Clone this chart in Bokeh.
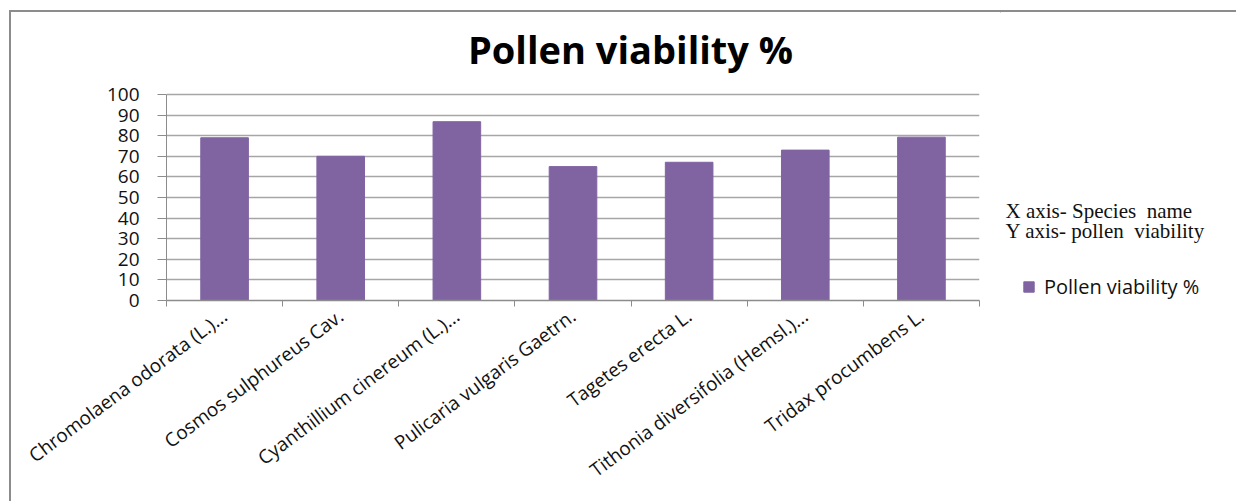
from bokeh.plotting import figure
from bokeh.layouts import row
from bokeh.models import (ColumnDataSource, FixedTicker, Legend, LegendItem,
                          Range1d, Label)
from bokeh.embed import file_html
from bokeh.resources import INLINE

# ---- data ----
species = [
    "Chromolaena odorata (L.)...",
    "Cosmos sulphureus Cav.",
    "Cyanthillium cinereum (L.)...",
    "Pulicaria vulgaris Gaetrn.",
    "Tagetes erecta L.",
    "Tithonia diversifolia (Hemsl.)...",
    "Tridax procumbens L.",
]
viability = [79.0, 70.0, 86.8, 65.0, 67.1, 73.0, 79.3]
y_ticks = [0, 10, 20, 30, 40, 50, 60, 70, 80, 90, 100]
title_text = "Pollen viability %"
series_name = "Pollen viability %"
note_lines = ["X axis- Species  name", "Y axis- pollen  viability"]

# ---- layout (page pixels); canvas origin at page (OX, OY) ----
OX, OY = 11, 12
SPLIT, RIGHT_END = 1000, 1236
H = 501 - OY
WA, WB = SPLIT - OX, RIGHT_END - SPLIT
PLOT_L, PLOT_T, PLOT_R, PLOT_B = 166, 94, 979, 300   # plot area in page px
n = len(species)
YMAX = 100
ppu = (PLOT_B - PLOT_T) / YMAX                          # px per y unit
y_top = YMAX + (PLOT_T - OY) / ppu                      # frame reaches top edge

def page_y(py):
    return (PLOT_B - py) / ppu

def page_x(px):
    return (px - PLOT_L) / (PLOT_R - PLOT_L) * n

BAR = "#8064A2"
GRID = "#a6a6a6"
AXIS = "#8c8c8c"
TXT = "#111111"
SANS = "Open Sans"

# ---------------- main chart ----------------
p = figure(width=WA, height=H, output_backend="svg", toolbar_location=None,
           x_range=Range1d(0, n), y_range=Range1d(0, y_top),
           min_border_left=PLOT_L - OX, min_border_right=WA - (PLOT_R - OX),
           min_border_top=0, min_border_bottom=H - (PLOT_B - OY))
p.outline_line_color = None

centers = [i + 0.5 for i in range(n)]
src = ColumnDataSource(dict(x=centers, top=viability))
r = p.vbar(x="x", top="top", width=0.41, bottom=0, source=src,
           fill_color=BAR, line_color=BAR)

p.add_layout(Label(x=page_x(630), y=page_y(48), text=title_text,
                   text_align="center", text_baseline="alphabetic",
                   text_font=SANS, text_font_style="bold",
                   text_font_size="38px", text_color="#000000"))

p.xgrid.grid_line_color = None
p.ygrid.grid_line_color = GRID
p.ygrid.grid_line_width = 1.5
p.yaxis.ticker = FixedTicker(ticks=y_ticks)
p.yaxis.bounds = (0, YMAX)
p.yaxis.axis_line_color = AXIS
p.yaxis.major_tick_line_color = AXIS
p.yaxis.major_tick_out = 9
p.yaxis.major_tick_in = 0
p.yaxis.minor_tick_line_color = None
p.yaxis.major_label_standoff = 18
p.yaxis.major_label_text_font = SANS
p.yaxis.major_label_text_font_size = "19px"
p.yaxis.major_label_text_color = TXT

p.xaxis.ticker = FixedTicker(ticks=centers, minor_ticks=list(range(n + 1)))
p.xaxis.major_label_overrides = {c: s for c, s in zip(centers, species)}
p.xaxis.major_label_orientation = 0.64
p.xaxis.major_label_standoff = 7
p.xaxis.major_label_text_font = SANS
p.xaxis.major_label_text_font_size = "19px"
p.xaxis.major_label_text_color = TXT
p.xaxis.axis_line_color = AXIS
p.xaxis.axis_line_width = 1.5
p.xaxis.major_tick_line_color = None
p.xaxis.major_tick_out = 0
p.xaxis.major_tick_in = 0
p.xaxis.minor_tick_line_color = AXIS
p.xaxis.minor_tick_out = 6
p.xaxis.minor_tick_in = 0

# ---------------- right side: axis note + legend ----------------
# its frame is aligned with the chart frame (page y OY .. PLOT_B)
q = figure(width=WB, height=H, output_backend="svg", toolbar_location=None,
           x_range=Range1d(SPLIT, RIGHT_END), y_range=Range1d(PLOT_B, OY),
           x_axis_type=None, y_axis_type=None,
           min_border_left=0, min_border_right=0, min_border_top=0,
           min_border_bottom=H - (PLOT_B - OY))
q.outline_line_color = None
q.xgrid.visible = False
q.ygrid.visible = False

for k, t in enumerate(note_lines):
    q.add_layout(Label(x=1005, y=210 + 20 * k, text=t.replace("  ", "\u00a0 "),
                       text_align="left", text_baseline="alphabetic",
                       text_font="Liberation Serif", text_font_size="21px",
                       text_color=TXT))

# legend proxy renderer (zero-height bar outside the visible range)
swatch = q.vbar(x=[SPLIT - 50], top=[0], bottom=[0], width=1,
                fill_color=BAR, line_color=BAR)
legend = Legend(items=[LegendItem(label=series_name, renderers=[swatch])],
                location=(1022 - SPLIT, 0),
                glyph_width=13, glyph_height=13, label_standoff=9,
                padding=0, margin=0, spacing=0,
                label_text_font=SANS, label_text_font_size="20px",
                label_text_color=TXT,
                border_line_color=None, background_fill_alpha=0)
q.add_layout(legend)

layout = row(p, q, styles={"border-left": "2px solid #8c8c8c",
                           "border-top": "2px solid #8c8c8c",
                           "margin-left": "9px", "margin-top": "10px"})

open("out.html", "w").write(file_html(layout, INLINE))
